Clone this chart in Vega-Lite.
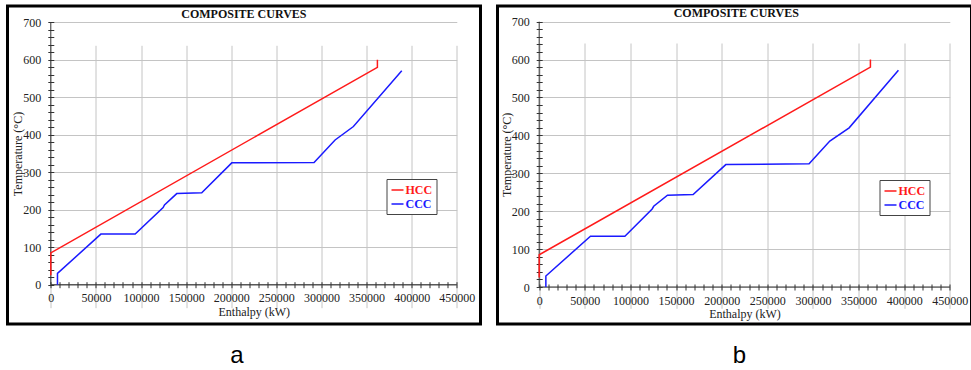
{
  "$schema": "https://vega.github.io/schema/vega-lite/v6.json",
  "padding": {"left": 5.5, "top": 4, "right": 0, "bottom": 0},
  "spacing": 13,
  "resolve": {"scale": {"color": "independent"}, "legend": {"color": "independent"}},
  "datasets": {
    "a": [
      {"curve": "HCC", "i": 0, "enthalpy": 0, "temp": 25},
      {"curve": "HCC", "i": 1, "enthalpy": 0, "temp": 85},
      {"curve": "HCC", "i": 2, "enthalpy": 362000, "temp": 580},
      {"curve": "HCC", "i": 3, "enthalpy": 362000, "temp": 600},
      {"curve": "CCC", "i": 0, "enthalpy": 7400, "temp": 0},
      {"curve": "CCC", "i": 1, "enthalpy": 7400, "temp": 30},
      {"curve": "CCC", "i": 2, "enthalpy": 55500, "temp": 135},
      {"curve": "CCC", "i": 3, "enthalpy": 93500, "temp": 135},
      {"curve": "CCC", "i": 4, "enthalpy": 124500, "temp": 206},
      {"curve": "CCC", "i": 5, "enthalpy": 126000, "temp": 213},
      {"curve": "CCC", "i": 6, "enthalpy": 139600, "temp": 243},
      {"curve": "CCC", "i": 7, "enthalpy": 167300, "temp": 245},
      {"curve": "CCC", "i": 8, "enthalpy": 200600, "temp": 325},
      {"curve": "CCC", "i": 9, "enthalpy": 291800, "temp": 326},
      {"curve": "CCC", "i": 10, "enthalpy": 315100, "temp": 386},
      {"curve": "CCC", "i": 11, "enthalpy": 335400, "temp": 422},
      {"curve": "CCC", "i": 12, "enthalpy": 389000, "temp": 571}
    ],
    "b": [
      {"curve": "HCC", "i": 0, "enthalpy": 0, "temp": 25},
      {"curve": "HCC", "i": 1, "enthalpy": 0, "temp": 85},
      {"curve": "HCC", "i": 2, "enthalpy": 363000, "temp": 580},
      {"curve": "HCC", "i": 3, "enthalpy": 363000, "temp": 600},
      {"curve": "CCC", "i": 0, "enthalpy": 7300, "temp": 0},
      {"curve": "CCC", "i": 1, "enthalpy": 7300, "temp": 29},
      {"curve": "CCC", "i": 2, "enthalpy": 56200, "temp": 134},
      {"curve": "CCC", "i": 3, "enthalpy": 93900, "temp": 134},
      {"curve": "CCC", "i": 4, "enthalpy": 123800, "temp": 206},
      {"curve": "CCC", "i": 5, "enthalpy": 125500, "temp": 213},
      {"curve": "CCC", "i": 6, "enthalpy": 140600, "temp": 242},
      {"curve": "CCC", "i": 7, "enthalpy": 168700, "temp": 244},
      {"curve": "CCC", "i": 8, "enthalpy": 204500, "temp": 323},
      {"curve": "CCC", "i": 9, "enthalpy": 295800, "temp": 325},
      {"curve": "CCC", "i": 10, "enthalpy": 318500, "temp": 385},
      {"curve": "CCC", "i": 11, "enthalpy": 339700, "temp": 420},
      {"curve": "CCC", "i": 12, "enthalpy": 393700, "temp": 572}
    ]
  },
  "hconcat": [
    {
      "spacing": 11,
      "vconcat": [
        {
          "width": 473,
          "height": 318,
          "resolve": {"axis": {"x": "independent", "y": "independent"}},
          "layer": [
            {
              "data": {"values": [{"axisline": "x"}]},
              "mark": {"type": "rule", "color": "#333", "strokeWidth": 1},
              "encoding": {
                "x": {"datum": 0, "type": "quantitative", "axis": {"orient": "bottom", "values": [0,10000,20000,30000,40000,50000,60000,70000,80000,90000,100000,110000,120000,130000,140000,150000,160000,170000,180000,190000,200000,210000,220000,230000,240000,250000,260000,270000,280000,290000,300000,310000,320000,330000,340000,350000,360000,370000,380000,390000,400000,410000,420000,430000,440000,450000], "labels": false, "grid": false, "domain": false, "ticks": true, "tickSize": 6, "offset": -42.3, "title": null}},
                "x2": {"datum": 450000},
                "y": {"datum": 0, "type": "quantitative", "axis": null}
              }
            },
            {
              "data": {"values": [{"axisline": "y"}]},
              "mark": {"type": "rule", "color": "#333", "strokeWidth": 1},
              "encoding": {
                "x": {"datum": 0, "type": "quantitative", "axis": null},
                "y": {"datum": 0, "type": "quantitative", "axis": {"orient": "left", "values": [0,20,40,60,80,100,120,140,160,180,200,220,240,260,280,300,320,340,360,380,400,420,440,460,480,500,520,540,560,580,600,620,640,660,680,700], "labels": false, "grid": false, "domain": false, "ticks": true, "tickSize": 6, "offset": -46.3, "title": null}},
                "y2": {"datum": 700}
              }
            },
            {
              "data": {"values": [{"heading": "COMPOSITE CURVES"}]},
              "mark": {"type": "text", "font": "Liberation Serif", "fontSize": 12, "fontWeight": "bold", "color": "#111", "align": "center", "baseline": "middle"},
              "encoding": {
                "x": {"datum": 214000, "type": "quantitative", "axis": null},
                "y": {"datum": 721, "type": "quantitative", "axis": null},
                "text": {"field": "heading", "type": "nominal"}
              }
            },
            {
              "data": {"name": "a"},
              "mark": {"type": "line", "strokeWidth": 1.5},
              "encoding": {
                "x": {"field": "enthalpy", "type": "quantitative", "title": "Enthalpy (kW)",
                  "scale": {"domain": [0, 450000], "range": [43.3, 449.3], "nice": false, "zero": false},
                  "axis": {"orient": "bottom", "values": [0,50000,100000,150000,200000,250000,300000,350000,400000,450000], "format": "d", "labelOverlap": false, "labelFlush": false, "labelBound": false, "labelFont": "Liberation Serif", "labelFontSize": 12, "titleFont": "Liberation Serif", "ticks": false, "domain": false, "grid": true, "offset": -39.3, "labelPadding": 8, "titlePadding": 2.5}},
                "y": {"field": "temp", "type": "quantitative", "title": "Temperature (°C)",
                  "scale": {"domain": [0, 700], "range": [278.7, 16.3], "nice": false, "zero": false},
                  "axis": {"orient": "left", "values": [0,100,200,300,400,500,600,700], "labelOverlap": false, "labelFlush": false, "labelBound": false, "labelFont": "Liberation Serif", "labelFontSize": 12, "titleFont": "Liberation Serif", "ticks": false, "domain": false, "grid": true, "offset": -43.3, "labelPadding": 10, "titlePadding": -2}},
                "color": {"field": "curve", "type": "nominal",
                  "scale": {"domain": ["HCC", "CCC"], "range": ["#ff1a1a", "#1a1aff"]},
                  "legend": {"orient": "none", "legendX": 379, "legendY": 173, "title": null,
                    "encode": {"labels": {"update": {"fill": [{"test": "datum.value === 'HCC'", "value": "#ff1a1a"}, {"value": "#1a1aff"}]}}}}},
                "order": {"field": "i", "type": "quantitative"}
              }
            }
          ]
        },
        {
          "width": 473,
          "height": 40,
          "view": {"stroke": null},
          "data": {"values": [{"panel": "a"}]},
          "mark": {"type": "text", "font": "Liberation Sans", "fontSize": 24, "baseline": "middle", "dx": -7, "dy": -1, "color": "#000"},
          "encoding": {"text": {"field": "panel", "type": "nominal"}}
        }
      ]
    },
    {
      "spacing": 11,
      "vconcat": [
        {
          "width": 474,
          "height": 318,
          "resolve": {"axis": {"x": "independent", "y": "independent"}},
          "layer": [
            {
              "data": {"values": [{"axisline": "x"}]},
              "mark": {"type": "rule", "color": "#333", "strokeWidth": 1},
              "encoding": {
                "x": {"datum": 0, "type": "quantitative", "axis": {"orient": "bottom", "values": [0,10000,20000,30000,40000,50000,60000,70000,80000,90000,100000,110000,120000,130000,140000,150000,160000,170000,180000,190000,200000,210000,220000,230000,240000,250000,260000,270000,280000,290000,300000,310000,320000,330000,340000,350000,360000,370000,380000,390000,400000,410000,420000,430000,440000,450000], "labels": false, "grid": false, "domain": false, "ticks": true, "tickSize": 6, "offset": -40, "title": null}},
                "x2": {"datum": 450000},
                "y": {"datum": 0, "type": "quantitative", "axis": null}
              }
            },
            {
              "data": {"values": [{"axisline": "y"}]},
              "mark": {"type": "rule", "color": "#333", "strokeWidth": 1},
              "encoding": {
                "x": {"datum": 0, "type": "quantitative", "axis": null},
                "y": {"datum": 0, "type": "quantitative", "axis": {"orient": "left", "values": [0,20,40,60,80,100,120,140,160,180,200,220,240,260,280,300,320,340,360,380,400,420,440,460,480,500,520,540,560,580,600,620,640,660,680,700], "labels": false, "grid": false, "domain": false, "ticks": true, "tickSize": 6, "offset": -44.7, "title": null}},
                "y2": {"datum": 700}
              }
            },
            {
              "data": {"values": [{"heading": "COMPOSITE CURVES"}]},
              "mark": {"type": "text", "font": "Liberation Serif", "fontSize": 12, "fontWeight": "bold", "color": "#111", "align": "center", "baseline": "middle"},
              "encoding": {
                "x": {"datum": 216000, "type": "quantitative", "axis": null},
                "y": {"datum": 722, "type": "quantitative", "axis": null},
                "text": {"field": "heading", "type": "nominal"}
              }
            },
            {
              "data": {"name": "b"},
              "mark": {"type": "line", "strokeWidth": 1.5},
              "encoding": {
                "x": {"field": "enthalpy", "type": "quantitative", "title": "Enthalpy (kW)",
                  "scale": {"domain": [0, 450000], "range": [41.7, 452.3], "nice": false, "zero": false},
                  "axis": {"orient": "bottom", "values": [0,50000,100000,150000,200000,250000,300000,350000,400000,450000], "format": "d", "labelOverlap": false, "labelFlush": false, "labelBound": false, "labelFont": "Liberation Serif", "labelFontSize": 12, "titleFont": "Liberation Serif", "ticks": false, "domain": false, "grid": true, "offset": -37, "labelPadding": 8, "titlePadding": 2.5}},
                "y": {"field": "temp", "type": "quantitative", "title": "Temperature (°C)",
                  "scale": {"domain": [0, 700], "range": [281, 15.7], "nice": false, "zero": false},
                  "axis": {"orient": "left", "values": [0,100,200,300,400,500,600,700], "labelOverlap": false, "labelFlush": false, "labelBound": false, "labelFont": "Liberation Serif", "labelFontSize": 12, "titleFont": "Liberation Serif", "ticks": false, "domain": false, "grid": true, "offset": -41.7, "labelPadding": 10, "titlePadding": -2}},
                "color": {"field": "curve", "type": "nominal",
                  "scale": {"domain": ["HCC", "CCC"], "range": ["#ff1a1a", "#1a1aff"]},
                  "legend": {"orient": "none", "legendX": 382, "legendY": 174, "title": null,
                    "encode": {"labels": {"update": {"fill": [{"test": "datum.value === 'HCC'", "value": "#ff1a1a"}, {"value": "#1a1aff"}]}}}}},
                "order": {"field": "i", "type": "quantitative"}
              }
            }
          ]
        },
        {
          "width": 474,
          "height": 40,
          "view": {"stroke": null},
          "data": {"values": [{"panel": "b"}]},
          "mark": {"type": "text", "font": "Liberation Sans", "fontSize": 24, "baseline": "middle", "dx": 5, "dy": -1, "color": "#000"},
          "encoding": {"text": {"field": "panel", "type": "nominal"}}
        }
      ]
    }
  ],
  "config": {
    "font": "Liberation Serif",
    "view": {"stroke": "#000", "strokeWidth": 3},
    "axis": {
      "labelFont": "Liberation Serif", "labelFontSize": 12, "labelColor": "#222",
      "titleFont": "Liberation Serif", "titleFontSize": 12, "titleFontWeight": "normal", "titleColor": "#222",
      "gridColor": "#c4c4c4", "gridWidth": 1, "gridOpacity": 1,
      "tickColor": "#333", "tickWidth": 1
    },
    "legend": {
      "labelFont": "Liberation Serif", "labelFontSize": 12, "labelFontWeight": "bold",
      "symbolType": "stroke", "symbolSize": 144, "symbolStrokeWidth": 1.5,
      "strokeColor": "#444", "fillColor": "#fff", "padding": 4, "rowPadding": 1, "labelOffset": 1, "cornerRadius": 0
    }
  }
}
